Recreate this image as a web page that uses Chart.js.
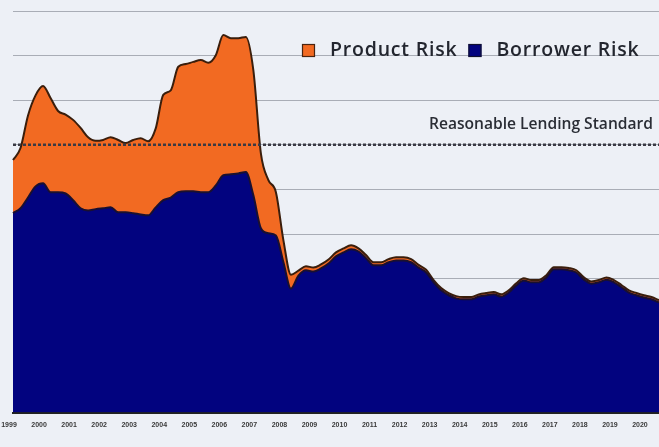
<!DOCTYPE html>
<html><head><meta charset="utf-8">
<script src="https://cdn.jsdelivr.net/npm/chart.js@4/dist/chart.umd.min.js"></script>
<style>
html,body{margin:0;padding:0;background:#edf0f6;overflow:hidden;}
#wrap{position:relative;width:659px;height:447px;}
</style></head><body>
<div id="wrap"><canvas id="c" width="659" height="447"></canvas></div>
<script>
const years = ['1999','2000','2001','2002','2003','2004','2005','2006','2007','2008','2009','2010','2011','2012','2013','2014','2015','2016','2017','2018','2019','2020'];
const quarters = ['Q1','Q2','Q3','Q4'];
const categories = years.flatMap(y => quarters.map(q => y + ' ' + q)).slice(0, 87);

const borrowerRisk = [
  4.47, 4.58, 4.82, 5.07,
  5.14, 4.94, 4.94, 4.91,
  4.76, 4.58, 4.53, 4.56,
  4.58, 4.60, 4.49, 4.49,
  4.47, 4.44, 4.42, 4.60,
  4.76, 4.82, 4.94, 4.96,
  4.96, 4.94, 4.94, 5.09,
  5.32, 5.34, 5.36, 5.39,
  4.87, 4.13, 4.02, 3.97,
  3.37, 2.78, 3.07, 3.19,
  3.16, 3.23, 3.34, 3.50,
  3.59, 3.66, 3.61, 3.46,
  3.30, 3.30, 3.37, 3.41,
  3.41, 3.37, 3.25, 3.14,
  2.92, 2.74, 2.63, 2.56,
  2.54, 2.54, 2.60, 2.63,
  2.65, 2.60, 2.69, 2.85,
  2.96, 2.92, 2.92, 3.03,
  3.21, 3.21, 3.19, 3.14,
  2.98, 2.89, 2.92, 2.98,
  2.92, 2.81, 2.69, 2.63,
  2.58, 2.54, 2.47
];
const productRisk = [
  1.19, 1.35, 1.84, 2.04,
  2.18, 2.11, 1.82, 1.77,
  1.80, 1.80, 1.64, 1.53,
  1.53, 1.57, 1.62, 1.55,
  1.64, 1.71, 1.66, 1.77,
  2.36, 2.40, 2.81, 2.85,
  2.90, 2.96, 2.90, 2.92,
  3.14, 3.05, 3.03, 3.03,
  2.80, 1.68, 1.19, 0.97,
  0.49, 0.31, 0.11, 0.09,
  0.09, 0.09, 0.09, 0.09,
  0.09, 0.09, 0.07, 0.07,
  0.07, 0.07, 0.07, 0.07,
  0.07, 0.07, 0.06, 0.06,
  0.05, 0.05, 0.05, 0.05,
  0.05, 0.05, 0.05, 0.05,
  0.05, 0.05, 0.05, 0.05,
  0.05, 0.05, 0.05, 0.05,
  0.05, 0.05, 0.05, 0.05,
  0.05, 0.05, 0.05, 0.05,
  0.05, 0.05, 0.05, 0.05,
  0.05, 0.05, 0.05
];
const lendingStandard = 6;
const standardLabel = 'Reasonable Lending Standard';

const ORANGE = '#f26a22';
const NAVY = '#02037f';

const overlayPlugin = {
  id: 'overlay',
  afterDraw(chart) {
    const ctx = chart.ctx;
    const ds = chart.data.datasets;
    ctx.save();
    const items = [ds[1], ds[0]];
    ctx.font = '600 19.5px "Open Sans"';
    ctx.letterSpacing = '0.8px';
    ctx.textBaseline = 'middle';
    ctx.textAlign = 'left';
    let x = 302;
    const cy = 50.5;
    items.forEach((d, i) => {
      ctx.fillStyle = d.backgroundColor;
      ctx.strokeStyle = i === 0 ? '#4a2410' : '#101030';
      ctx.lineWidth = 1.2;
      ctx.fillRect(x, cy - 6.5, 13, 13);
      ctx.strokeRect(x + 0.5, cy - 6, 12, 12);
      ctx.fillStyle = '#23262f';
      ctx.fillText(d.label, x + 28, cy);
      x += 28 + ctx.measureText(d.label).width + 11;
    });
    const yScale = chart.scales.y;
    const yy = yScale.getPixelForValue(lendingStandard);
    ctx.font = '600 15.6px "Open Sans"';
    ctx.letterSpacing = '0px';
    ctx.textAlign = 'right';
    ctx.fillStyle = '#2a2d35';
    ctx.fillText(standardLabel, 653, yy - 20);
    ctx.restore();
  }
};

new Chart(document.getElementById('c'), {
  type: 'line',
  data: {
    labels: categories,
    datasets: [
      { label: 'Borrower Risk', data: borrowerRisk, backgroundColor: NAVY, borderColor: '#1a1030',
        borderWidth: 2, fill: 'origin', pointRadius: 0, tension: 0.3, cubicInterpolationMode: 'monotone', stack: 'risk' },
      { label: 'Product Risk', data: productRisk, backgroundColor: ORANGE, borderColor: '#3a1e0c',
        borderWidth: 2, fill: '-1', pointRadius: 0, tension: 0.3, cubicInterpolationMode: 'monotone', stack: 'risk' },
      { label: standardLabel, data: categories.map(() => lendingStandard), borderColor: '#3a3a44',
        borderWidth: 2.5, borderDash: [3, 2], fill: false, pointRadius: 0, stack: 'ref', order: -1 }
    ]
  },
  options: {
    responsive: false, animation: false, maintainAspectRatio: false,
    layout: { padding: { left: 13, right: 0, top: 11, bottom: 10 } },
    plugins: { legend: { display: false }, tooltip: { enabled: false } },
    scales: {
      x: {
        type: 'category', offset: false,
        grid: { display: false, drawTicks: false },
        border: { display: true, color: '#222', width: 2, dash: [2, 2] },
        afterFit(scale) { scale.paddingLeft = 0; scale.paddingRight = 0; },
        ticks: {
          autoSkip: false, maxRotation: 0, minRotation: 0, padding: 8, labelOffset: -4,
          font: { size: 7, family: 'Liberation Sans', weight: 'bold' }, color: '#3a3a3a',
          callback: (v, i) => categories[i].endsWith('Q1') ? categories[i].slice(0, 4) : ''
        }
      },
      y: {
        stacked: true, min: 0, max: 9,
        afterFit(scale) { scale.width = 0; },
        ticks: { display: false, stepSize: 1 },
        grid: { color: '#a9adb6', lineWidth: 1, drawTicks: false },
        border: { display: false }
      }
    }
  },
  plugins: [overlayPlugin]
});
</script>
</body></html>
